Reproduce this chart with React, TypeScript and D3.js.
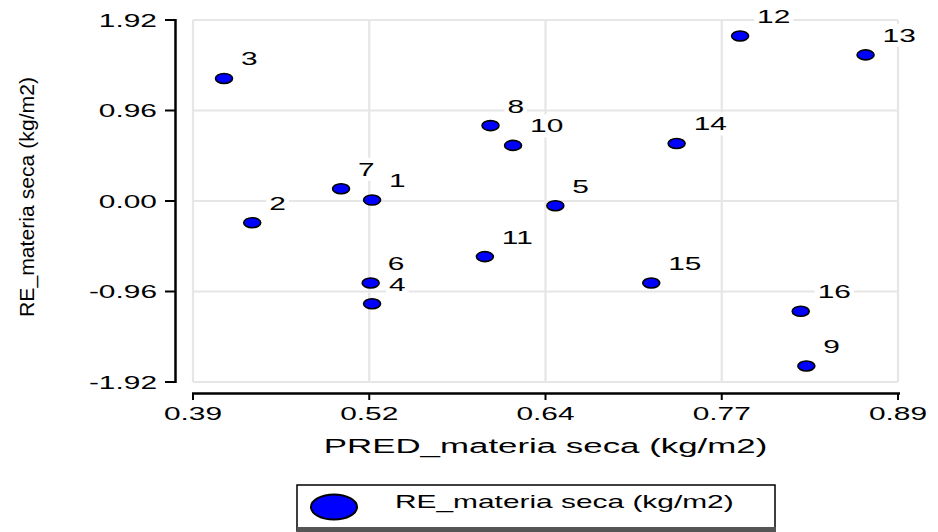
import React from "react";
import * as d3 from "d3";

const pointIds = [1, 2, 3, 4, 5, 6, 7, 8, 9, 10, 11, 12, 13, 14, 15, 16];
const predValues = [0.517, 0.432, 0.412, 0.517, 0.647, 0.516, 0.495, 0.601, 0.825, 0.617, 0.597, 0.778, 0.867, 0.733, 0.715, 0.821];
const residValues = [0.01, -0.23, 1.3, -1.09, -0.05, -0.87, 0.13, 0.8, -1.75, 0.59, -0.59, 1.75, 1.55, 0.61, -0.87, -1.17];
const xTickValues = [0.39, 0.515, 0.64, 0.765, 0.89];
const xTickLabels = ["0.39", "0.52", "0.64", "0.77", "0.89"];
const yTickValues = [1.92, 0.96, 0, -0.96, -1.92];
const yTickLabels = ["1.92", "0.96", "0.00", "-0.96", "-1.92"];
const xTitle = "PRED_materia seca (kg/m2)";
const yTitle = "RE_materia seca (kg/m2)";
const legendLabel = "RE_materia seca (kg/m2)";

const FONT = "'Liberation Sans', Arial, Helvetica, sans-serif";
const SX = 1.66;

function SText({ x, y, anchor = "start", size = 18, children }: any) {
  return (
    <g transform={`translate(${x},${y}) scale(${SX},1)`}>
      <text x={0} y={0} textAnchor={anchor} fontSize={size} fontFamily={FONT} fill="#000">
        {children}
      </text>
    </g>
  );
}

export default function App() {
  const W = 938;
  const H = 532;
  const left = 193, right = 898, top = 20, bottom = 382;
  const x = d3.scaleLinear().domain([0.39, 0.89]).range([left, right]);
  const y = d3.scaleLinear().domain([-1.92, 1.92]).range([bottom, top]);
  const grid = "#e6e6e6";
  const pts = pointIds.map((id, i) => ({ id, px: x(predValues[i]), py: y(residValues[i]) }));
  const digitW = 18 * 0.556 * SX;

  return (
    <svg width={W} height={H} style={{ position: "absolute", left: 0, top: 0, background: "#fff" }}>
      <rect x={0} y={0} width={W} height={H} fill="#fff" />
      {/* grid */}
      {xTickValues.map((v, i) => (
        <line key={"gx" + i} x1={x(v)} x2={x(v)} y1={top} y2={bottom} stroke={grid} strokeWidth={2.2} />
      ))}
      {yTickValues.map((v, i) => (
        <line key={"gy" + i} x1={left} x2={right} y1={y(v)} y2={y(v)} stroke={grid} strokeWidth={2.2} />
      ))}
      {/* y axis */}
      <line x1={175.5} x2={175.5} y1={top - 1} y2={bottom + 1} stroke="#000" strokeWidth={2.5} />
      {yTickValues.map((v, i) => (
        <g key={"yt" + i}>
          <line x1={165} x2={175.5} y1={y(v)} y2={y(v)} stroke="#000" strokeWidth={2} />
          <SText x={157} y={y(v) + 6.5} anchor="end">{yTickLabels[i]}</SText>
        </g>
      ))}
      {/* x axis */}
      <line x1={left - 1} x2={right + 2} y1={393.5} y2={393.5} stroke="#000" strokeWidth={2.5} />
      {xTickValues.map((v, i) => (
        <g key={"xt" + i}>
          <line x1={x(v)} x2={x(v)} y1={393.5} y2={400} stroke="#000" strokeWidth={2} />
          <SText x={x(v)} y={420} anchor="middle">{xTickLabels[i]}</SText>
        </g>
      ))}
      <SText x={(left + right) / 2 - 0} y={453} anchor="middle" size={21}>{xTitle}</SText>
      {/* y title */}
      <text
        transform={`translate(34,197) rotate(-90)`}
        textAnchor="middle"
        fontSize={21}
        fontFamily={FONT}
        textLength={240}
        lengthAdjust="spacingAndGlyphs"
        fill="#000"
      >
        {yTitle}
      </text>
      {/* points */}
      {pts.map((p) => (
        <ellipse key={"p" + p.id} cx={p.px} cy={p.py} rx={8.5} ry={5} fill="#0000ff" stroke="#000" strokeWidth={1.6} />
      ))}
      {pts.map((p) => {
        const n = String(p.id).length;
        return (
          <g key={"l" + p.id}>
            <rect x={p.px + 14} y={p.py - 31} width={n * digitW + 6} height={23} fill="#fff" />
            <SText x={p.px + 17} y={p.py - 13}>{String(p.id)}</SText>
          </g>
        );
      })}
      {/* legend */}
      <rect x={297} y={485} width={478} height={46} fill="#fff" stroke="#000" strokeWidth={1.5} />
      <line x1={297} x2={776} y1={529.5} y2={529.5} stroke="#555" strokeWidth={5} />
      <ellipse cx={334} cy={507} rx={23} ry={12.5} fill="#0000ff" stroke="#000" strokeWidth={2} />
      <SText x={395} y={508}>{legendLabel}</SText>
    </svg>
  );
}
